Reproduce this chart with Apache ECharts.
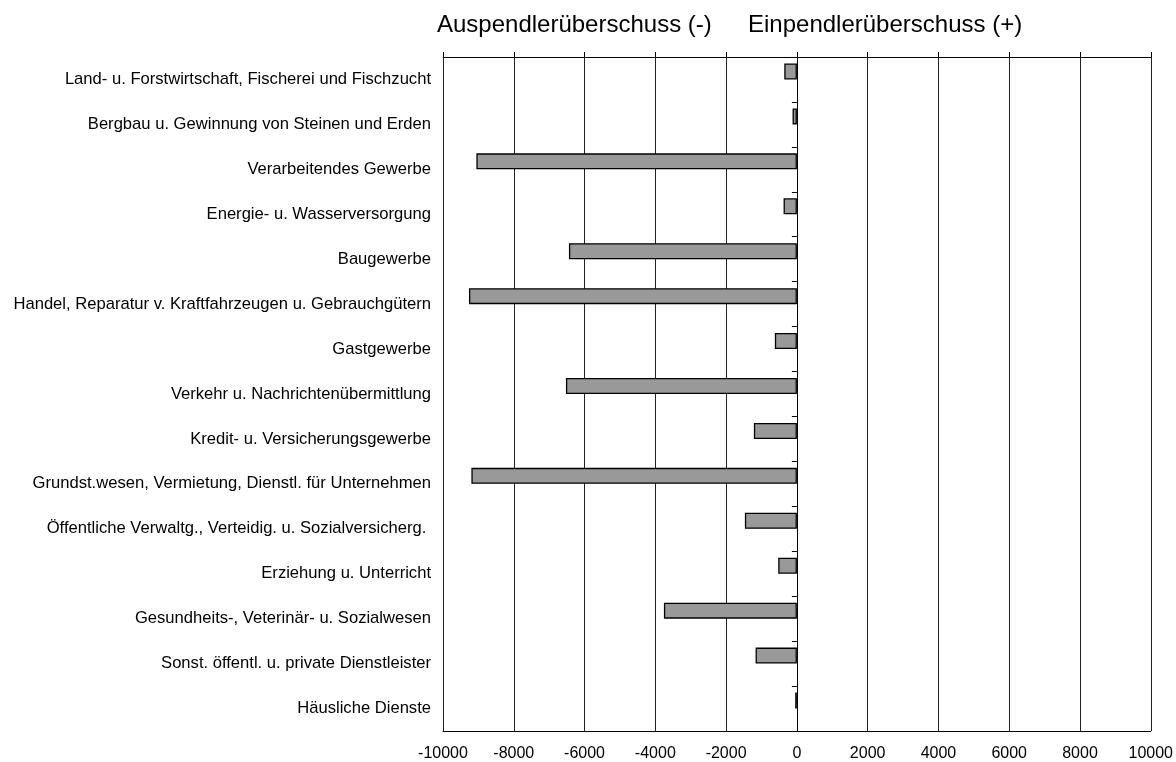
<!DOCTYPE html>
<html>
<head>
<meta charset="utf-8">
<script src="https://cdn.jsdelivr.net/npm/echarts@6/dist/echarts.min.js"></script>
<style>html,body{margin:0;padding:0;background:#fff}#c{width:1176px;height:762px}</style>
</head>
<body>
<div id="c"></div>
<script>
const categories = [
  "Land- u. Forstwirtschaft, Fischerei und Fischzucht",
  "Bergbau u. Gewinnung von Steinen und Erden",
  "Verarbeitendes Gewerbe",
  "Energie- u. Wasserversorgung",
  "Baugewerbe",
  "Handel, Reparatur v. Kraftfahrzeugen u. Gebrauchgütern",
  "Gastgewerbe",
  "Verkehr u. Nachrichtenübermittlung",
  "Kredit- u. Versicherungsgewerbe",
  "Grundst.wesen, Vermietung, Dienstl. für Unternehmen",
  "Öffentliche Verwaltg., Verteidig. u. Sozialversicherg. ",
  "Erziehung u. Unterricht",
  "Gesundheits-, Veterinär- u. Sozialwesen",
  "Sonst. öffentl. u. private Dienstleister",
  "Häusliche Dienste"
];
const values = [-356, -122, -9057, -376, -6441, -9266, -622, -6526, -1215, -9198, -1469, -527, -3757, -1167, -47];
const titleLeft = "Auspendlerüberschuss (-)";
const titleRight = "Einpendlerüberschuss (+)";

const font = "'Liberation Sans', Arial, sans-serif";
const chart = echarts.init(document.getElementById('c'), null, {renderer: 'canvas'});
chart.setOption({
  animation: false,
  backgroundColor: '#fff',
  grid: {left: 443, right: 25, top: 57, bottom: 31, containLabel: false},
  graphic: [
    {type: 'text', left: 437, top: 13, style: {text: titleLeft, font: "24px " + font, fill: '#000'}},
    {type: 'text', left: 748, top: 13, style: {text: titleRight, font: "24px " + font, fill: '#000'}}
  ],
  xAxis: [
    {
      type: 'value', position: 'bottom', min: -10000, max: 10000, interval: 2000,
      axisLine: {show: true, onZero: false, lineStyle: {color: '#000', width: 1}},
      axisTick: {show: false},
      axisLabel: {color: '#000', fontSize: 16, fontFamily: font, margin: 15, formatter: v => String(v)},
      splitLine: {show: true, lineStyle: {color: '#222', width: 1}}
    },
    {
      type: 'value', position: 'top', min: -10000, max: 10000, interval: 2000,
      axisLine: {show: true, onZero: false, lineStyle: {color: '#000', width: 1}},
      axisTick: {show: true, length: 5, lineStyle: {color: '#000'}},
      axisLabel: {show: false},
      splitLine: {show: false}
    }
  ],
  yAxis: [
    {
      type: 'category', position: 'left', data: categories, inverse: true,
      axisLine: {show: false, onZero: false},
      axisTick: {show: false},
      axisLabel: {color: '#000', fontSize: 16.6, fontFamily: font, margin: 12, interval: 0}
    },
    {
      type: 'category', position: 'right', data: categories, inverse: true,
      axisLine: {show: true, onZero: true, onZeroAxisIndex: 0, lineStyle: {color: '#000', width: 1}},
      axisTick: {show: true, inside: true, length: 5, lineStyle: {color: '#000'}},
      axisLabel: {show: false}
    }
  ],
  series: [
    {
      type: 'bar', xAxisIndex: 0, yAxisIndex: 0, data: values, barWidth: 16, barGap: '0%',
      itemStyle: {color: '#999999', borderColor: '#000', borderWidth: 1.3},
      silent: true
    },
    {
      type: 'bar', xAxisIndex: 0, yAxisIndex: 0, data: values.map(() => null), barWidth: 16, barGap: '0%',
      silent: true
    }
  ]
});
</script>
</body>
</html>
